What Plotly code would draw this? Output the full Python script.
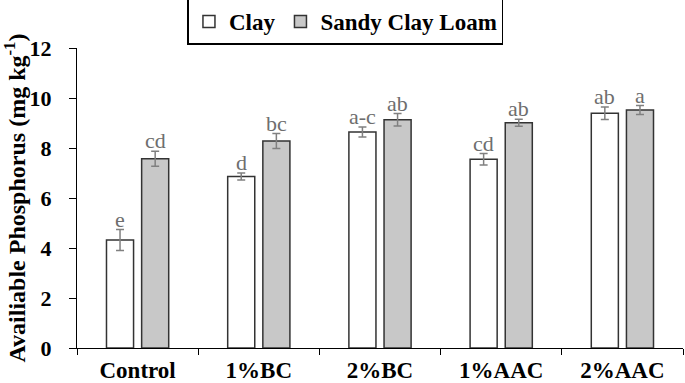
import plotly.graph_objects as go

categories = ["Control", "1%BC", "2%BC", "1%AAC", "2%AAC"]
clay = [4.32, 6.86, 8.64, 7.55, 9.39]
clay_err = [0.42, 0.14, 0.2, 0.23, 0.25]
clay_letters = ["e", "d", "a-c", "cd", "ab"]
scl = [7.57, 8.28, 9.13, 9.01, 9.52]
scl_err = [0.3, 0.3, 0.25, 0.14, 0.18]
scl_letters = ["cd", "bc", "ab", "ab", "a"]
y_ticks = [0, 2, 4, 6, 8, 10, 12]

FONT = "'Liberation Serif', 'Times New Roman', serif"

fig = go.Figure()
fig.add_trace(go.Bar(
    name="Clay", x=categories, y=clay,
    marker=dict(color="white", line=dict(color="#333333", width=1.5)),
    error_y=dict(type="data", array=clay_err, color="#808080", thickness=1.5, width=4),
))
fig.add_trace(go.Bar(
    name="Sandy Clay Loam", x=categories, y=scl,
    marker=dict(color="#c8c8c8", line=dict(color="#333333", width=1.5)),
    error_y=dict(type="data", array=scl_err, color="#808080", thickness=1.5, width=4),
))

# letters above error bars
for i, cat in enumerate(categories):
    fig.add_annotation(x=cat, y=clay[i] + clay_err[i], text=clay_letters[i],
                       xref="x", yref="y", showarrow=False, yanchor="bottom",
                       xshift=-17.5, yshift=-4,
                       font=dict(family=FONT, size=22, color="#6e6e6e"))
    fig.add_annotation(x=cat, y=scl[i] + scl_err[i], text=scl_letters[i],
                       xref="x", yref="y", showarrow=False, yanchor="bottom",
                       xshift=17.5, yshift=-4,
                       font=dict(family=FONT, size=22, color="#6e6e6e"))

fig.update_layout(
    width=685, height=383,
    margin=dict(l=77, r=2, t=48, b=35, autoexpand=False),
    paper_bgcolor="white", plot_bgcolor="white",
    barmode="group", bargap=0.42, bargroupgap=0.23,
    font=dict(family=FONT, color="black"),
    showlegend=True,
    legend=dict(orientation="h", x=0.443, xanchor="center", y=1.165, yanchor="top",
                bordercolor="black", borderwidth=1.5, bgcolor="white",
                font=dict(family=FONT, size=23, color="black", weight="bold"),
                itemwidth=30, tracegroupgap=0),
    xaxis=dict(showline=True, linecolor="black", linewidth=1.2,
               ticks="outside", ticklen=6, tickcolor="black",
               tickson="boundaries", showgrid=False, automargin=False,
               ticklabelstandoff=1,
               tickfont=dict(family=FONT, size=23, color="black", weight="bold")),
    yaxis=dict(range=[0, 12], tickvals=y_ticks, showline=True, linecolor="black",
               linewidth=1.2, ticks="outside", ticklen=7, tickcolor="black",
               showgrid=False, zeroline=False, automargin=False,
               ticklabelstandoff=13,
               tickfont=dict(family=FONT, size=22, color="black", weight="bold"),
               title=dict(text="Availiable Phosphorus (mg kg<sup>-1</sup>)",
                          font=dict(family=FONT, size=24, color="black", weight="bold"),
                          standoff=5)),
)

fig.write_html("out.html", config={"displayModeBar": False},
               post_script="document.body.style.margin='0';")
